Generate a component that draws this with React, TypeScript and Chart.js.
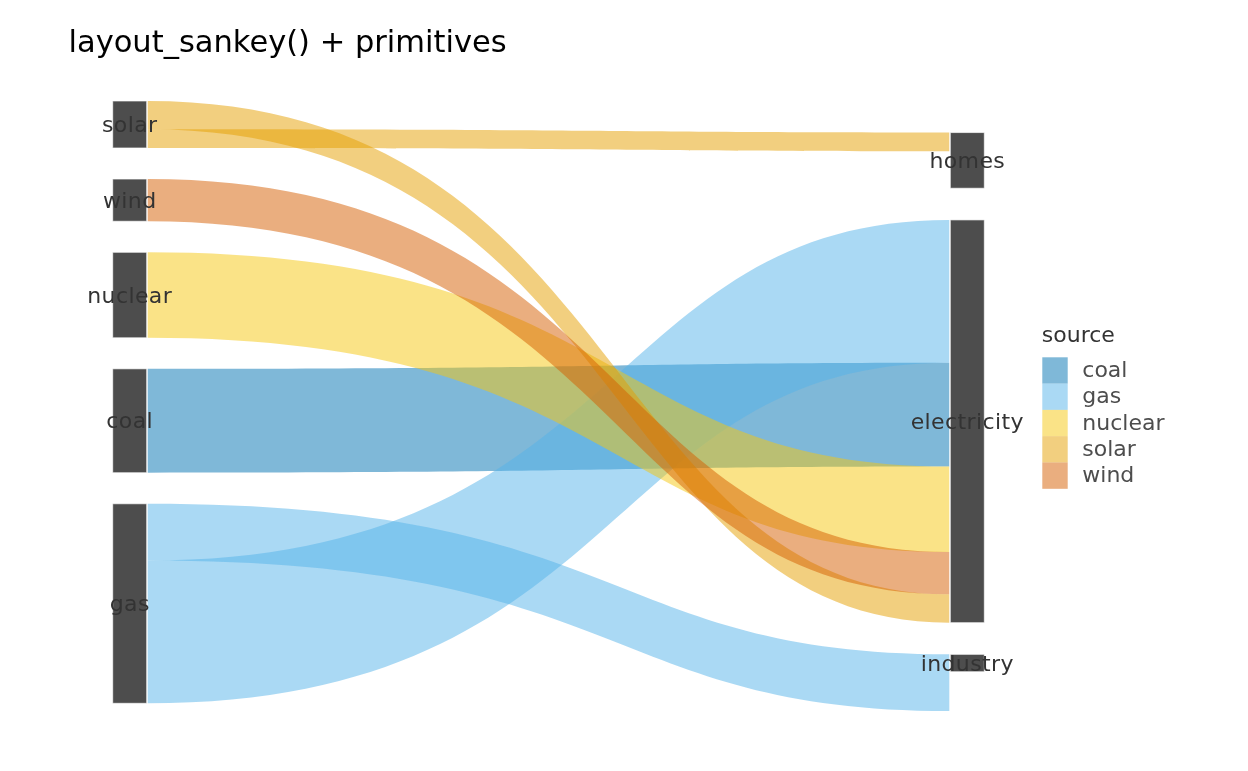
import React, { useEffect, useRef } from 'react';
import { Chart, registerables } from 'chart.js';

Chart.register(...registerables);

// ---------------- data ----------------
const chartTitle = 'layout_sankey() + primitives';
const legendTitle = 'source';

const sourceNodes = ['solar', 'wind', 'nuclear', 'coal', 'gas'];
const targetNodes = ['homes', 'electricity', 'industry'];
// heights of the right-hand node boxes as drawn in the reference
const targetNodeHeights = [13.45, 97.3, 4.2];

const linkSources = ['solar', 'solar', 'wind', 'nuclear', 'coal', 'gas', 'gas'];
const linkTargets = ['homes', 'electricity', 'electricity', 'electricity', 'electricity', 'electricity', 'industry'];
const linkValues = [4.5, 6.85, 10.2, 20.65, 25.1, 34.5, 13.7];

const legendSources = ['coal', 'gas', 'nuclear', 'solar', 'wind'];
const sourceColors = ['#0072B2', '#56B4E9', '#F5C710', '#E69F00', '#D55E00'];

// ---------------- layout constants ----------------
const LEFT_GAP = 7.5; // in value units
const RIGHT_GAP = 7.65;
const NODE_W = 0.039; // in x units (0..1)
const FONT = "'DejaVu Sans', 'Noto Sans', sans-serif";

const sourceHeights = sourceNodes.map((s) =>
  linkValues.reduce((acc, v, i) => (linkSources[i] === s ? acc + v : acc), 0)
);
const leftTotal = sourceHeights.reduce((a, b) => a + b, 0) + LEFT_GAP * (sourceNodes.length - 1);
const rightTotal = targetNodeHeights.reduce((a, b) => a + b, 0) + RIGHT_GAP * (targetNodes.length - 1);
const Y_MAX = Math.max(leftTotal, rightTotal);

function stackColumn(heights: number[], total: number, gap: number) {
  const tops: number[] = [];
  let y = (Y_MAX - total) / 2;
  heights.forEach((h) => {
    tops.push(y);
    y += h + gap;
  });
  return tops;
}

const sourceTops = stackColumn(sourceHeights, leftTotal, LEFT_GAP);
const targetTops = stackColumn(targetNodeHeights, rightTotal, RIGHT_GAP);

// link end positions
type LinkGeom = { src: string; tgt: string; v: number; y0: number; y1: number; order: number };
const linkGeoms: LinkGeom[] = linkValues.map((v, i) => ({
  src: linkSources[i],
  tgt: linkTargets[i],
  v,
  y0: 0,
  y1: 0,
  order: legendSources.indexOf(linkSources[i]),
}));

sourceNodes.forEach((s, si) => {
  let y = sourceTops[si];
  linkGeoms
    .filter((l) => l.src === s)
    .sort((a, b) => targetNodes.indexOf(b.tgt) - targetNodes.indexOf(a.tgt))
    .forEach((l) => {
      l.y0 = y;
      y += l.v;
    });
});
targetNodes.forEach((t, ti) => {
  let y = targetTops[ti];
  linkGeoms
    .filter((l) => l.tgt === t)
    .sort((a, b) => sourceNodes.indexOf(b.src) - sourceNodes.indexOf(a.src))
    .forEach((l) => {
      l.y1 = y;
      y += l.v;
    });
});

function hexToRgba(hex: string, a: number) {
  const n = parseInt(hex.slice(1), 16);
  return `rgba(${(n >> 16) & 255}, ${(n >> 8) & 255}, ${n & 255}, ${a})`;
}

const sankeyPlugin = {
  id: 'sankeyPrimitives',
  afterDatasetsDraw(chart: any) {
    const { ctx, chartArea } = chart;
    const xs = chart.scales.x;
    const ys = chart.scales.y;
    ctx.save();

    // flows
    const fx0 = xs.getPixelForValue(NODE_W) + 1;
    const fx1 = xs.getPixelForValue(1 - NODE_W) - 1;
    const dx = fx1 - fx0;
    const c1 = fx0 + 0.6 * dx;
    const c2 = fx0 + 0.57 * dx;
    [...linkGeoms]
      .sort((a, b) => a.order - b.order)
      .forEach((l) => {
        const t0 = ys.getPixelForValue(l.y0);
        const b0 = ys.getPixelForValue(l.y0 + l.v);
        const t1 = ys.getPixelForValue(l.y1);
        const b1 = ys.getPixelForValue(l.y1 + l.v);
        ctx.beginPath();
        ctx.moveTo(fx0, t0);
        ctx.bezierCurveTo(c1, t0, c2, t1, fx1, t1);
        ctx.lineTo(fx1, b1);
        ctx.bezierCurveTo(c2, b1, c1, b0, fx0, b0);
        ctx.closePath();
        ctx.fillStyle = hexToRgba(sourceColors[l.order], 0.5);
        ctx.fill();
      });

    // nodes
    const drawNode = (xa: number, xb: number, top: number, h: number, label: string) => {
      const px0 = xs.getPixelForValue(xa);
      const px1 = xs.getPixelForValue(xb);
      const py0 = ys.getPixelForValue(top);
      const py1 = ys.getPixelForValue(top + h);
      ctx.fillStyle = '#4D4D4D';
      ctx.fillRect(px0, py0, px1 - px0, py1 - py0);
      ctx.strokeStyle = 'rgba(255,255,255,0.65)';
      ctx.lineWidth = 1;
      ctx.strokeRect(px0, py0, px1 - px0, py1 - py0);
      ctx.fillStyle = '#333333';
      ctx.font = `22px ${FONT}`;
      (ctx as any).letterSpacing = '0.4px';
      ctx.textAlign = 'center';
      ctx.textBaseline = 'middle';
      ctx.fillText(label, (px0 + px1) / 2, (py0 + py1) / 2 + 2);
      (ctx as any).letterSpacing = '0px';
    };
    sourceNodes.forEach((s, i) => drawNode(0, NODE_W, sourceTops[i], sourceHeights[i], s));
    targetNodes.forEach((t, i) => drawNode(1 - NODE_W, 1, targetTops[i], targetNodeHeights[i], t));

    // title
    ctx.fillStyle = '#000000';
    ctx.font = `30.5px ${FONT}`;
    ctx.textAlign = 'left';
    ctx.textBaseline = 'alphabetic';
    ctx.fillText(chartTitle, 68.5, 52.2);

    // legend
    const lx = chartArea.right + 58;
    ctx.fillStyle = '#333333';
    ctx.font = `22px ${FONT}`;
    ctx.fillText(legendTitle, lx - 0.5, 341.7);
    const keyTop = 357.3;
    const keyH = 26.3;
    const keyW = 25.4;
    legendSources.forEach((s, i) => {
      const ky = keyTop + i * keyH;
      ctx.fillStyle = hexToRgba(sourceColors[i], 0.5);
      ctx.fillRect(lx, ky, keyW, keyH);
      ctx.fillStyle = '#4D4D4D';
      ctx.textBaseline = 'middle';
      ctx.fillText(s, lx + 40, ky + keyH / 2 + 1);
      ctx.textBaseline = 'alphabetic';
    });

    ctx.restore();
  },
};

export default function App() {
  const canvasRef = useRef<HTMLCanvasElement | null>(null);

  useEffect(() => {
    document.body.style.margin = '0';
    const canvas = canvasRef.current;
    if (!canvas) return;
    const chart = new Chart(canvas, {
      type: 'scatter',
      data: {
        datasets: legendSources.map((s, i) => ({
          label: s,
          data: [] as { x: number; y: number }[],
          backgroundColor: hexToRgba(sourceColors[i], 0.5),
        })),
      },
      options: {
        animation: false,
        responsive: false,
        devicePixelRatio: 1,
        events: [],
        layout: {
          padding: { left: 112.7, right: 1248 - 984.3, top: 101, bottom: 771 - 703.3 },
        },
        scales: {
          x: { type: 'linear', min: 0, max: 1, display: false },
          y: { type: 'linear', min: 0, max: Y_MAX, reverse: true, display: false },
        },
        plugins: {
          legend: { display: false },
          title: { display: false },
          tooltip: { enabled: false },
        },
      },
      plugins: [sankeyPlugin],
    });
    return () => chart.destroy();
  }, []);

  return (
    <div style={{ position: 'absolute', left: 0, top: 0, width: 1248, height: 771, background: '#fff' }}>
      <canvas ref={canvasRef} width={1248} height={771} style={{ display: 'block' }} />
    </div>
  );
}
